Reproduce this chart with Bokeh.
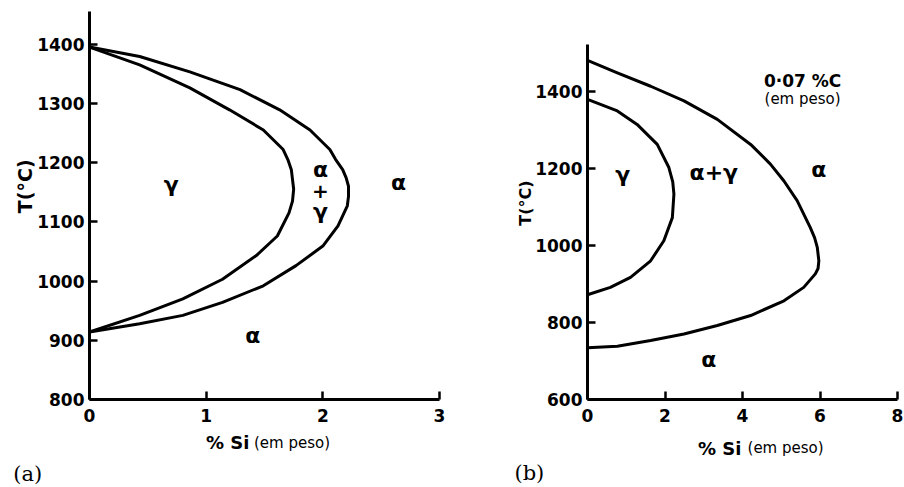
from bokeh.plotting import figure
from bokeh.layouts import row
from bokeh.models import Range1d, Label, FixedTicker
from bokeh.embed import file_html
from bokeh.resources import INLINE

# (a) Fe-Si, carbon-free: gamma loop boundaries
si_a_outer = [0.0, 0.43, 0.86, 1.29, 1.63, 1.89, 2.06, 2.11, 2.17, 2.20, 2.22, 2.22,
              2.21, 2.17, 2.13, 2.0, 1.77, 1.49, 1.14, 0.80, 0.43, 0.0]
t_a_outer = [1395, 1379, 1353, 1323, 1289, 1255, 1222, 1205, 1188, 1174, 1160, 1143,
             1127, 1110, 1093, 1059, 1026, 992, 964, 942, 928, 914]
si_a_inner = [0.0, 0.43, 0.86, 1.20, 1.49, 1.66, 1.70, 1.73, 1.75, 1.74, 1.71, 1.61,
              1.43, 1.14, 0.80, 0.43, 0.0]
t_a_inner = [1395, 1365, 1326, 1289, 1255, 1222, 1205, 1188, 1155, 1135, 1115, 1076,
             1043, 1003, 970, 942, 914]

# (b) Fe-Si with 0.07 %C
si_b_outer = [0.0, 0.77, 1.63, 2.49, 3.35, 4.21, 4.72, 5.07, 5.41, 5.75, 5.86, 5.93,
              5.97, 5.95, 5.88, 5.58, 5.07, 4.21, 3.35, 2.49, 1.63, 0.77, 0.0]
t_b_outer = [1480, 1448, 1413, 1375, 1327, 1262, 1211, 1167, 1116, 1046, 1020, 995,
             960, 940, 926, 891, 856, 818, 792, 770, 753, 738, 734]
si_b_inner = [0.0, 0.77, 1.28, 1.80, 2.10, 2.20, 2.23, 2.19, 1.97, 1.63, 1.11, 0.59, 0.0]
t_b_inner = [1379, 1349, 1314, 1262, 1202, 1165, 1133, 1072, 1012, 960, 917, 891, 872]

ticks_a_x = [0, 1, 2, 3]
ticks_a_y = [800, 900, 1000, 1100, 1200, 1300, 1400]
ticks_b_x = [0, 2, 4, 6, 8]
ticks_b_y = [600, 800, 1000, 1200, 1400]

FONT = "DejaVu Sans"


def base_figure(width, xr, yr, y_bounds, borders, xt, yt):
    left, right, top, bottom = borders
    p = figure(width=width, height=487, x_range=Range1d(*xr), y_range=Range1d(*yr),
               output_backend="svg", toolbar_location=None, title_location=None,
               min_border_left=left, min_border_right=right,
               min_border_top=top, min_border_bottom=bottom)
    p.outline_line_color = None
    p.grid.visible = False
    p.background_fill_color = "white"
    p.border_fill_color = "white"
    p.xaxis.ticker = FixedTicker(ticks=xt)
    p.yaxis.ticker = FixedTicker(ticks=yt)
    p.yaxis.bounds = y_bounds
    for ax in (p.xaxis, p.yaxis):
        ax.axis_line_width = 3
        ax.axis_line_color = "black"
        ax.major_tick_line_width = 2.5
        ax.major_tick_line_color = "black"
        ax.major_tick_in = 8
        ax.major_tick_out = 0
        ax.minor_tick_line_color = None
        ax.major_label_text_font = FONT
        ax.major_label_text_font_style = "bold"
        ax.major_label_text_font_size = "17px"
        ax.major_label_text_color = "black"
    p.xaxis.major_label_standoff = 9
    p.yaxis.major_label_standoff = 5
    return p


def add_text(p, x, y, text, size, style="bold", align="center", baseline="middle",
             angle=0, font=FONT, place=None):
    lab = Label(x=x, y=y, text=text, text_font=font, text_font_size=size,
                text_font_style=style, text_align=align, text_baseline=baseline,
                angle=angle, text_color="black")
    if place is None:
        p.add_layout(lab)
    else:
        p.add_layout(lab, place)


def draw_curve(p, xs, ys):
    p.line(xs, ys, line_width=3, line_color="black", line_join="round",
           line_cap="round")


# ---- panel (a)
pa = base_figure(452, (0, 3), (800, 1455), (800, 1455), (89, 13, 11, 87),
                 ticks_a_x, ticks_a_y)
draw_curve(pa, si_a_outer, t_a_outer)
draw_curve(pa, si_a_inner, t_a_inner)
add_text(pa, 0.70, 1163, "γ", "22px")
add_text(pa, 2.65, 1166, "α", "22px")
add_text(pa, 1.40, 908, "α", "22px")
add_text(pa, 1.98, 1188, "α", "22px")
add_text(pa, 1.98, 1152, "+", "20px")
add_text(pa, 1.98, 1118, "γ", "22px")
add_text(pa, -0.55, 1160, "T(°C)", "19px", angle=1.5708, place="left")
add_text(pa, 1.371, 727, "% Si", "18px", align="right", baseline="alphabetic",
         place="below")
add_text(pa, 1.41, 727, "(em peso)", "15px", style="normal", align="left",
         baseline="alphabetic", place="below")
add_text(pa, -0.53, 675, "(a)", "21px", style="normal", font="DejaVu Serif",
         place="below")

# ---- panel (b): the frame reaches the same top as (a); the axis stops at 1522
pb = base_figure(452, (0, 8), (600, 1607), (600, 1522), (135, 7, 11, 87),
                 ticks_b_x, ticks_b_y)
draw_curve(pb, si_b_outer, t_b_outer)
draw_curve(pb, si_b_inner, t_b_inner)
add_text(pb, 0.91, 1185, "γ", "22px")
add_text(pb, 3.26, 1189, "α+γ", "22px")
add_text(pb, 5.97, 1197, "α", "22px")
add_text(pb, 3.13, 705, "α", "22px")
add_text(pb, 5.55, 1427, "0·07 %C", "17px")
add_text(pb, 5.55, 1380, "(em peso)", "15px", style="normal")
add_text(pb, -1.6, 1110, "T(°C)", "16px", angle=1.5708, place="left")
add_text(pb, 3.97, 473, "% Si", "18px", align="right", baseline="alphabetic",
         place="below")
add_text(pb, 4.13, 473, "(em peso)", "15px", style="normal", align="left",
         baseline="alphabetic", place="below")
add_text(pb, -1.5, 408, "(b)", "21px", style="normal", font="DejaVu Serif",
         place="left")

layout = row(pa, pb, spacing=0)
open("out.html", "w").write(file_html(layout, INLINE))
